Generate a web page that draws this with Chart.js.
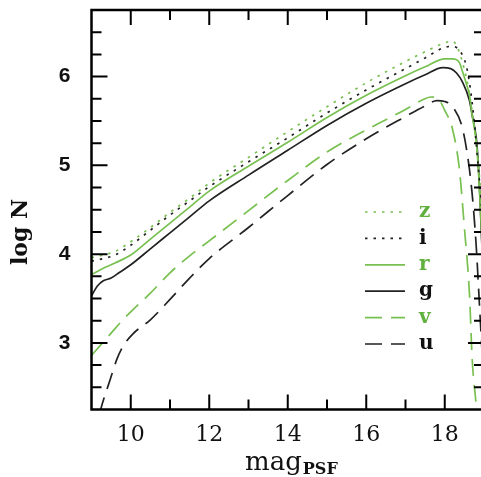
<!DOCTYPE html>
<html>
<head>
<meta charset="utf-8">
<script src="https://cdn.jsdelivr.net/npm/chart.js@4.4.0/dist/chart.umd.min.js"></script>
<style>
  html, body { margin: 0; padding: 0; overflow: hidden; background: #fff; }
</style>
</head>
<body>
<canvas id="lf" width="500" height="477"></canvas>
<script>
// magnitude / log N, one pair of arrays per band
const zMag  = [9.0, 9.3, 9.6, 10.0, 10.5, 11.0, 11.5, 12.0, 13.0, 14.0, 15.0, 16.0, 17.0, 17.5, 18.0, 18.2, 18.35, 18.5, 18.6, 18.7, 18.8, 18.9, 19.0];
const zLogN = [3.96, 3.99, 4.03, 4.14, 4.30, 4.47, 4.63, 4.80, 5.09, 5.38, 5.66, 5.93, 6.17, 6.28, 6.38, 6.40, 6.30, 6.08, 5.88, 5.60, 5.25, 4.80, 4.20];

const iMag  = [9.0, 9.3, 9.6, 10.0, 10.5, 11.0, 11.5, 12.0, 13.0, 14.0, 15.0, 16.0, 17.0, 17.5, 18.0, 18.2, 18.4, 18.55, 18.65, 18.75, 18.85, 19.0];
const iLogN = [3.92, 3.95, 3.99, 4.10, 4.27, 4.44, 4.60, 4.76, 5.04, 5.31, 5.59, 5.85, 6.09, 6.21, 6.33, 6.34, 6.28, 6.12, 5.87, 5.50, 5.00, 4.20];

const rMag  = [9.0, 9.3, 9.6, 10.0, 10.5, 11.0, 11.5, 12.0, 13.0, 14.0, 15.0, 16.0, 17.0, 17.5, 18.0, 18.2, 18.37, 18.45, 18.55, 18.63, 18.7, 18.8, 18.85, 18.9, 19.0];
const rLogN = [3.77, 3.84, 3.90, 3.99, 4.17, 4.35, 4.53, 4.71, 4.99, 5.26, 5.54, 5.79, 6.01, 6.11, 6.20, 6.20, 6.16, 6.06, 5.92, 5.79, 5.56, 5.28, 5.00, 4.60, 3.60];

const gMag  = [9.0, 9.15, 9.3, 9.5, 9.7, 10.0, 10.5, 11.0, 11.5, 12.0, 13.0, 14.0, 15.0, 16.0, 17.0, 17.5, 17.95, 18.15, 18.3, 18.45, 18.63, 18.7, 18.8, 18.85, 18.9, 19.0];
const gLogN = [3.53, 3.64, 3.70, 3.73, 3.79, 3.88, 4.06, 4.24, 4.42, 4.60, 4.89, 5.17, 5.45, 5.70, 5.92, 6.02, 6.10, 6.09, 6.04, 5.94, 5.73, 5.56, 5.32, 5.05, 4.60, 3.50];

const vMag  = [9.0, 9.5, 9.8, 10.0, 10.5, 11.0, 11.5, 12.0, 13.0, 14.0, 15.0, 16.0, 17.0, 17.4, 17.65, 17.85, 18.0, 18.19, 18.37, 18.5, 18.63, 18.7, 18.8, 18.85];
const vLogN = [2.86, 3.11, 3.26, 3.35, 3.56, 3.79, 3.98, 4.15, 4.49, 4.83, 5.15, 5.40, 5.63, 5.73, 5.77, 5.74, 5.62, 5.42, 4.97, 4.30, 3.55, 2.81, 2.30, 2.00];

const uMag  = [9.2, 9.3, 9.47, 9.65, 9.8, 10.05, 10.5, 11.0, 11.5, 12.0, 13.0, 14.0, 15.0, 16.0, 17.0, 17.5, 17.8, 18.0, 18.2, 18.45, 18.6, 18.7, 18.8, 18.9, 19.0];
const uLogN = [2.20, 2.35, 2.58, 2.82, 2.96, 3.10, 3.26, 3.49, 3.73, 3.95, 4.30, 4.66, 5.01, 5.30, 5.55, 5.67, 5.73, 5.72, 5.66, 5.42, 5.05, 4.67, 4.10, 3.30, 2.50];

const xTickLabels = [10, 12, 14, 16, 18];
const yTickLabels = [3, 4, 5, 6];

const GREEN = '#78c050';
const DARK = '#222';

const pts = (m, n) => m.map((x, k) => ({ x: x, y: n[k] }));

function band(label, m, n, color, dash) {
  return {
    label: label,
    data: pts(m, n),
    borderColor: color,
    borderDash: dash,
    borderWidth: 1.7,
    pointRadius: 0,
    fill: false,
    cubicInterpolationMode: 'monotone'
  };
}

// frame, inward ticks, axis titles and the legend
const frame = {
  id: 'frame',
  afterDraw(chart) {
    const { ctx, chartArea: a, scales: { x, y } } = chart;
    ctx.save();
    ctx.strokeStyle = '#000';
    ctx.lineWidth = 2;
    ctx.beginPath();
    for (let v = 10; v <= 18; v++) {
      const px = x.getPixelForValue(v);
      const len = v % 2 === 0 ? 15 : 10;
      ctx.moveTo(px, a.bottom); ctx.lineTo(px, a.bottom - len);
      ctx.moveTo(px, a.top); ctx.lineTo(px, a.top + len);
    }
    for (let v = 2.5; v <= 6.5; v += 0.25) {
      const py = y.getPixelForValue(v);
      const len = Number.isInteger(v) ? 16 : 10;
      ctx.moveTo(a.left, py); ctx.lineTo(a.left + len, py);
      ctx.moveTo(a.right, py); ctx.lineTo(a.right - len, py);
    }
    ctx.stroke();
    ctx.lineWidth = 2.5;
    ctx.strokeRect(a.left, a.top, a.right - a.left, a.bottom - a.top);

    // axis titles
    ctx.fillStyle = '#111';
    ctx.textBaseline = 'alphabetic';
    ctx.font = 'bold 22px "DejaVu Serif"';
    ctx.save();
    ctx.translate(27, 232);
    ctx.rotate(-Math.PI / 2);
    ctx.textAlign = 'center';
    ctx.fillText('log N', 0, 0);
    ctx.restore();
    ctx.textAlign = 'left';
    ctx.font = '26px "DejaVu Serif"';
    ctx.fillText('mag', 245, 470);
    const w = ctx.measureText('mag').width;
    ctx.font = 'bold 16px "DejaVu Serif"';
    ctx.fillText('PSF', 245 + w + 1, 474);

    // legend
    chart.data.datasets.forEach((ds, k) => {
      const ly = 212 + k * 26.4;
      ctx.beginPath();
      ctx.strokeStyle = ds.borderColor;
      ctx.lineWidth = ds.borderWidth;
      ctx.setLineDash(ds.borderDash);
      ctx.moveTo(365, ly); ctx.lineTo(405, ly);
      ctx.stroke();
      ctx.setLineDash([]);
      ctx.fillStyle = ds.borderColor === GREEN ? '#5fb03c' : '#111';
      ctx.font = 'bold 20px "DejaVu Serif"';
      ctx.textBaseline = 'middle';
      ctx.fillText(ds.label, 419, ly);
    });
    ctx.restore();
  }
};

new Chart(document.getElementById('lf'), {
  type: 'line',
  data: {
    datasets: [
      band('z', zMag, zLogN, GREEN, [2.5, 6]),
      band('i', iMag, iLogN, DARK, [2.5, 6]),
      band('r', rMag, rLogN, GREEN, []),
      band('g', gMag, gLogN, DARK, []),
      band('v', vMag, vLogN, GREEN, [17, 9]),
      band('u', uMag, uLogN, DARK, [17, 9])
    ]
  },
  options: {
    responsive: false,
    animation: false,
    layout: { padding: { top: 10, right: 16, left: 0, bottom: 0 } },
    plugins: { legend: { display: false }, tooltip: { enabled: false } },
    scales: {
      x: {
        type: 'linear',
        min: 9,
        max: 19,
        afterBuildTicks: s => { s.ticks = xTickLabels.map(v => ({ value: v })); },
        afterFit: s => { s.height = 67.5; s.paddingLeft = 0; s.paddingRight = 0; },
        grid: { display: false, drawTicks: false },
        border: { display: false },
        ticks: { padding: 13, color: '#111', autoSkip: false, maxRotation: 0,
                 font: { family: 'DejaVu Serif', size: 22 } }
      },
      y: {
        type: 'linear',
        min: 2.25,
        max: 6.75,
        afterBuildTicks: s => { s.ticks = yTickLabels.map(v => ({ value: v })); },
        afterFit: s => { s.width = 91.5; s.paddingTop = 0; s.paddingBottom = 0; },
        grid: { display: false, drawTicks: false },
        border: { display: false },
        ticks: { padding: 21, color: '#111',
                 font: { family: 'Liberation Sans', size: 21, weight: 'bold' } }
      }
    }
  },
  plugins: [frame]
});
</script>
</body>
</html>
